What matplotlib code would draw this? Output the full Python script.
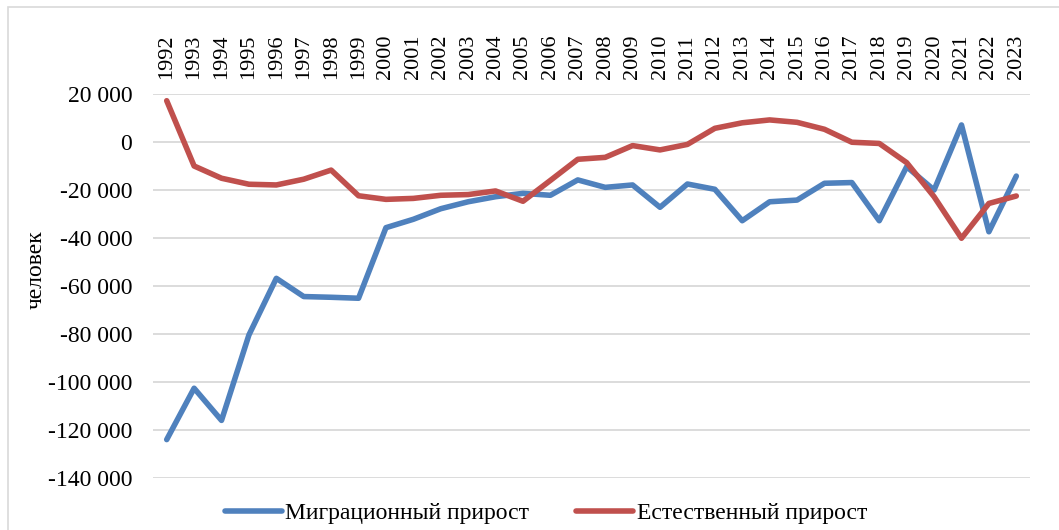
import matplotlib
matplotlib.use("Agg")
import matplotlib.pyplot as plt
from matplotlib.patches import Rectangle

plt.rcParams['font.family'] = ['Liberation Serif', 'DejaVu Serif']

years = list(range(1992, 2024))
migration = [-124000, -102600, -116000, -80400, -56800, -64400, -64700, -65100,
             -35700, -32200, -27800, -24900, -22800, -21400, -22200, -15800,
             -18900, -17900, -27200, -17500, -19700, -32800, -24900, -24200,
             -17200, -16900, -32800, -10300, -20000, 7100, -37400, -14200]
natural = [17200, -10000, -15100, -17600, -17900, -15500, -11700, -22400,
           -23900, -23500, -22200, -21900, -20400, -24700, -16000, -7200,
           -6400, -1500, -3300, -1000, 5700, 8000, 9200, 8200,
           5300, -100, -600, -8600, -22800, -40100, -25600, -22500]
yticks = [20000, 0, -20000, -40000, -60000, -80000, -100000, -120000, -140000]
series_names = ['Миграционный прирост', 'Естественный прирост']
colors = ['#4F81BD', '#C0504D']

W, H = 1059, 530
fig = plt.figure(figsize=(W / 100, H / 100), dpi=100)
ax = fig.add_axes([153 / W, 1 - 478 / H, (1030 - 153) / W, (478 - 94) / H])

x = list(range(len(years)))
l1, = ax.plot(x, migration, color=colors[0], lw=4.0, solid_joinstyle='round',
              solid_capstyle='round', label=series_names[0], zorder=3)
l2, = ax.plot(x, natural, color=colors[1], lw=4.0, solid_joinstyle='round',
              solid_capstyle='round', label=series_names[1], zorder=3)

ax.set_xlim(-0.5, len(years) - 0.5)
ax.set_ylim(-140000, 20000)
ax.set_yticks(yticks)
ax.set_yticklabels([f"{v:,}".replace(",", " ") for v in yticks], fontsize=17)
ax.set_xticks(x)
ax.set_xticklabels([str(y) for y in years], rotation=90, fontsize=16)
ax.xaxis.tick_top()
ax.tick_params(axis='x', length=0, pad=11)
ax.tick_params(axis='y', length=0, pad=15)
ax.grid(axis='y', color='#d9d9d9', lw=1.3, zorder=0)
for s in ax.spines.values():
    s.set_visible(False)

fig.text(36 / W, 1 - 270 / H, 'человек', rotation=90, ha='center', va='center', fontsize=17)

fig.legend(handles=[l1, l2], loc='center', bbox_to_anchor=(546 / W, 1 - 513 / H),
           ncol=2, frameon=False, fontsize=17, handlelength=2.4,
           handletextpad=0.15, columnspacing=2.0, borderpad=0, borderaxespad=0)

fig.patches.append(Rectangle((8 / W, -0.1), 1.2, 1 - 7 / H + 0.1, transform=fig.transFigure,
                             fill=False, edgecolor='#d9d9d9', lw=1.2, zorder=0))

fig.savefig('out.png', dpi=100)
